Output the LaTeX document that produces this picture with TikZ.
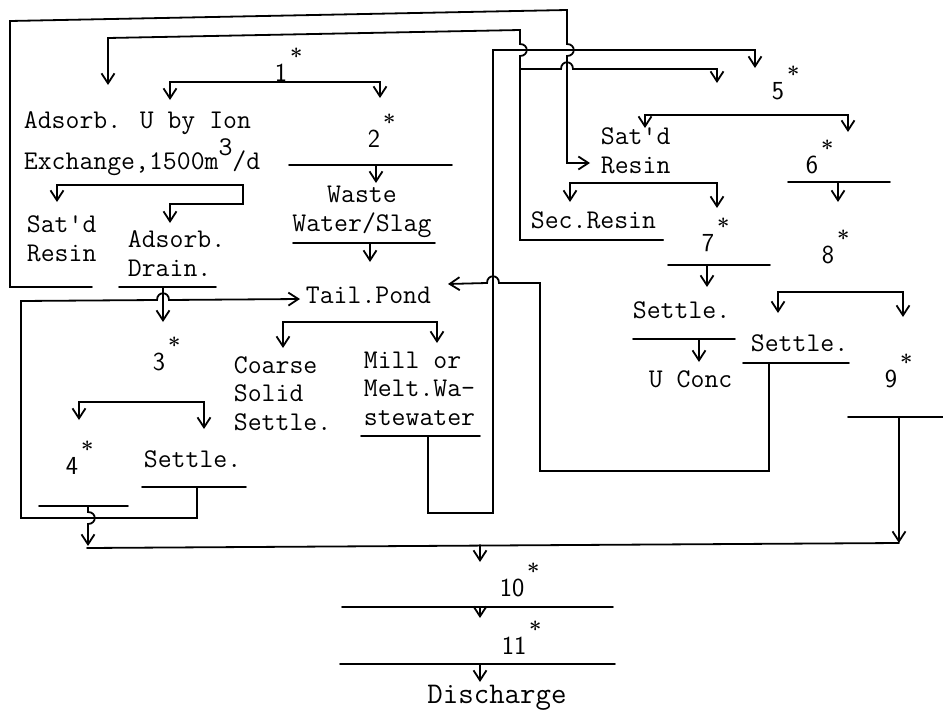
\documentclass[tikz,border=0pt]{standalone}
\usetikzlibrary{arrows.meta}
\newcommand{\stage}[1]{#1\rlap{\kern3pt\raisebox{17pt}{\fontsize{22}{22}\selectfont\rmfamily\bfseries *}}}
\begin{document}
\begin{tikzpicture}[x=1pt,y=-1pt,line width=1.8pt,line cap=round,
  >={Straight Barb[length=10pt,width=13pt]},
  txt/.style={anchor=base west,inner sep=0pt,align=left,
    font=\fontsize{27}{28.5}\selectfont\ttfamily},
  stg/.style={anchor=base,inner sep=0pt,font=\fontsize{26}{26}\selectfont\sffamily}]
\useasboundingbox (0,0) rectangle (943,712);

% stage numbers
\node[stg] (n1) at (281,81) {\stage{1}};
\node[stg] (n2) at (374,147) {\stage{2}};
\node[stg] (n3) at (159,370) {\stage{3}};
\node[stg] (n4) at (72,474) {\stage{4}};
\node[stg] (n5) at (778,99) {\stage{5}};
\node[stg] (n6) at (812,173) {\stage{6}};
\node[stg] (n7) at (708,251) {\stage{7}};
\node[stg] (n8) at (828,263) {\stage{8}};
\node[stg] (n9) at (891,387) {\stage{9}};
\node[stg] (n10) at (512,596) {\stage{10}};
\node[stg] (n11) at (514,654) {\stage{11}};

% texts (base = last line)
\node[txt] (ion) at (23,128) {Adsorb. U by Ion};
\node[txt] (exch) at (23,169) {Exchange,1500m\raisebox{14pt}{3}/d};
\node[txt] (satl) at (26,261) {Sat'd\\Resin};
\node[txt] (drain) at (127,276) {Adsorb.\\Drain.};
\node[txt,anchor=base,align=center] (slag) at (362,231) {Waste\\Water/Slag};
\node[txt] (pond) at (305,303) {Tail.Pond};
\node[txt] (coarse) at (233,430) {Coarse\\Solid\\Settle.};
\node[txt] (mill) at (363,425) {Mill or\\Melt.Wa-\\stewater};
\node[txt] (setl) at (143,467) {Settle.};
\node[txt] (satr) at (600,173) {Sat'd\\Resin};
\node[txt] (sec) at (530,228) {Sec.Resin};
\node[txt] (setm) at (632,318) {Settle.};
\node[txt] (conc) at (648,387) {U Conc};
\node[txt] (setr) at (750,351) {Settle.};
\node[txt,anchor=base,font=\fontsize{30}{30}\selectfont\ttfamily] (dis) at (497,703) {Discharge};

% bars
\draw (289,165) -- (452,165);
\draw (293,243) -- (435,243);
\draw (119,287) -- (216,287);
\draw (361,436) -- (480,436);
\draw (39,506) -- (128,506);
\draw (142,487) -- (246,487);
\draw (788,182) -- (890,182);
\draw (668,265) -- (770,265);
\draw (633,339) -- (735,339);
\draw (743,363) -- (849,363);
\draw (848,417) -- (943,417);
\draw (520,240) -- (663,240);
\draw (342,607) -- (613,607);
\draw (340,664) -- (615,664);

% connector ends
\coordinate (satlbar) at (92,287);   \coordinate (satrin) at (590,163);
\coordinate (secbar) at (663,240);   \coordinate (ionin) at (108,85);
\coordinate (j69) at (520,69);       \coordinate (in5a) at (717,83);
\coordinate (millbar) at (428,436);  \coordinate (in5b) at (755,68);
\coordinate (setrbar) at (769,363);  \coordinate (pondR) at (448,284);
\coordinate (drbar) at (163,287);    \coordinate (in3) at (163,322);
\coordinate (setlbar) at (197,487);  \coordinate (pondL) at (300,299);
\coordinate (bar4) at (88,506);      \coordinate (low4) at (88,546);
\coordinate (bar9) at (899,417);     \coordinate (low9) at (899,543);
\coordinate (lowL) at (87,548);
\coordinate (top10) at (480,545);    \coordinate (in10) at (480,562);
\coordinate (bar10) at (480,607);    \coordinate (in11) at (480,618);
\coordinate (bar11) at (480,664);    \coordinate (indis) at (480,682);
\coordinate (bar2) at (376,165);     \coordinate (inws) at (376,183);
\coordinate (barws) at (370,243);    \coordinate (inpond) at (370,262);
\coordinate (bar6) at (838,182);     \coordinate (in8) at (838,202);
\coordinate (bar7) at (707,265);     \coordinate (inset) at (707,287);
\coordinate (barset) at (699,339);   \coordinate (inconc) at (699,362);

% loops
\draw[->] (satlbar) -- (10,287) -- (10,21) -- (567,10) -- (567,44)
  .. controls +(9,0) and +(9,0) .. (567,56) -- (567,163) -- (satrin);
\draw[->] (secbar) -- (520,240) -- (520,56)
  .. controls +(9,0) and +(9,0) .. (520,44) -- (520,30) -- (108,38) -- (ionin);
\draw[->] (j69) -- (561,69) .. controls +(0,-9) and +(0,-9) .. (573,69)
  -- (717,69) -- (in5a);
\draw[->] (millbar) -- (428,513) -- (493,513) -- (493,50) -- (755,50) -- (in5b);
\draw[->] (setrbar) -- (769,471) -- (540,471) -- (540,283) -- (499,283)
  .. controls +(0,-9) and +(0,-9) .. (487,283) -- (pondR);
\draw[->] (setlbar) -- (197,518) -- (21,518) -- (21,301) -- (157,300)
  .. controls +(0,-9) and +(0,-9) .. (169,300) -- (pondL);
\draw[->] (bar4) -- (88,512) .. controls +(9,0) and +(9,0) .. (88,524) -- (low4);
\draw[->] (bar9) -- (low9);
\draw (low9) -- (lowL);

% forks
\draw[<->] (170,100) -- ++(0,-18) -| (380,98);
\draw[<->] (57,202) -- ++(0,-17) -| (243,204) -| (170,223);
\draw[<->] (79,420) -- ++(0,-18) -| (204,429);
\draw[<->] (283,348) -- ++(0,-26) -| (437,343);
\draw[<->] (645,128) -- ++(0,-13) -| (848,132);
\draw[<->] (570,202) -- ++(0,-19) -| (717,208);
\draw[<->] (778,313) -- ++(0,-21) -| (903,317);

% straight drops
\draw[->] (drbar) -- (in3);
\draw[->] (top10) -- (in10);
\draw[->] (bar10) -- (in11);
\draw[->] (bar11) -- (indis);
\draw[->] (bar2) -- (inws);
\draw[->] (barws) -- (inpond);
\draw[->] (bar6) -- (in8);
\draw[->] (bar7) -- (inset);
\draw[->] (barset) -- (inconc);
\end{tikzpicture}
\end{document}
